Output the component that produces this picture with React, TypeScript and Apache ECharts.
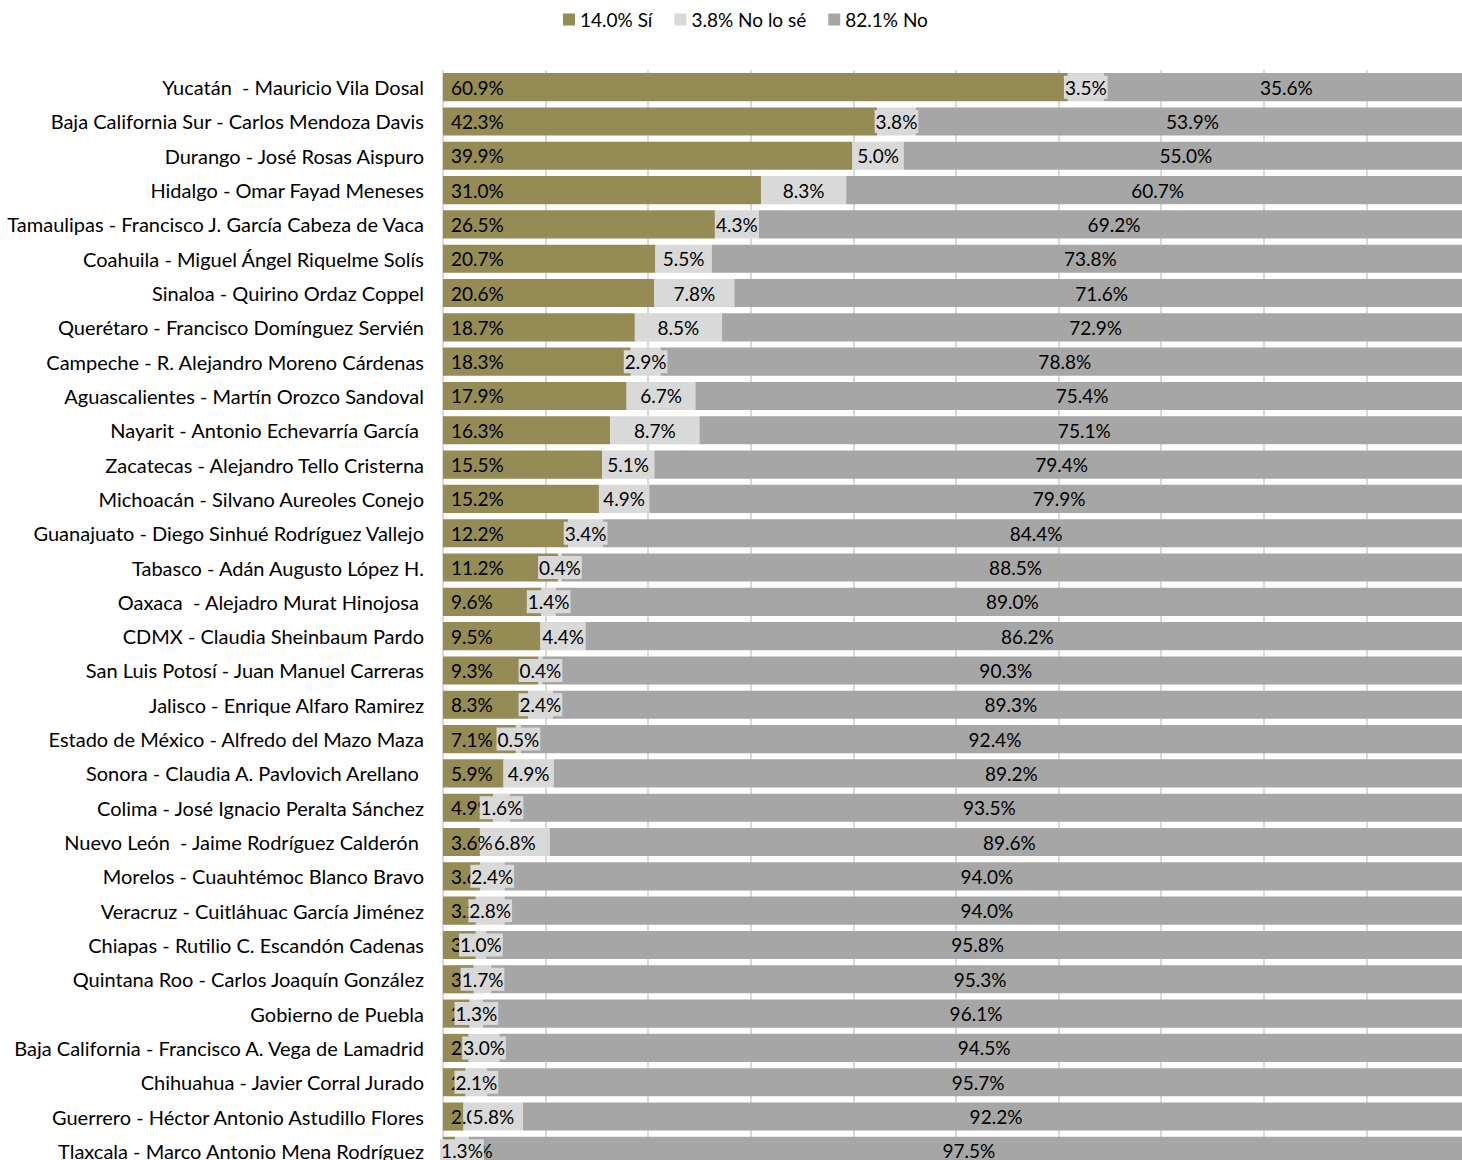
import React, { useEffect, useRef } from "react";
import * as echarts from "echarts";

const categories: string[] = [
  "Yucatán  - Mauricio Vila Dosal",
  "Baja California Sur - Carlos Mendoza Davis",
  "Durango - José Rosas Aispuro",
  "Hidalgo - Omar Fayad Meneses",
  "Tamaulipas - Francisco J. García Cabeza de Vaca",
  "Coahuila - Miguel Ángel Riquelme Solís",
  "Sinaloa - Quirino Ordaz Coppel",
  "Querétaro - Francisco Domínguez Servién",
  "Campeche - R. Alejandro Moreno Cárdenas",
  "Aguascalientes - Martín Orozco Sandoval",
  "Nayarit - Antonio Echevarría García ",
  "Zacatecas - Alejandro Tello Cristerna",
  "Michoacán - Silvano Aureoles Conejo",
  "Guanajuato - Diego Sinhué Rodríguez Vallejo",
  "Tabasco - Adán Augusto López H.",
  "Oaxaca  - Alejadro Murat Hinojosa ",
  "CDMX - Claudia Sheinbaum Pardo",
  "San Luis Potosí - Juan Manuel Carreras",
  "Jalisco - Enrique Alfaro Ramirez",
  "Estado de México - Alfredo del Mazo Maza",
  "Sonora - Claudia A. Pavlovich Arellano ",
  "Colima - José Ignacio Peralta Sánchez",
  "Nuevo León  - Jaime Rodríguez Calderón ",
  "Morelos - Cuauhtémoc Blanco Bravo",
  "Veracruz - Cuitláhuac García Jiménez",
  "Chiapas - Rutilio C. Escandón Cadenas",
  "Quintana Roo - Carlos Joaquín González",
  "Gobierno de Puebla",
  "Baja California - Francisco A. Vega de Lamadrid",
  "Chihuahua - Javier Corral Jurado",
  "Guerrero - Héctor Antonio Astudillo Flores",
  "Tlaxcala - Marco Antonio Mena Rodríguez",
];

const siValues: number[] = [
  60.9, 42.3, 39.9, 31.0, 26.5, 20.7, 20.6, 18.7, 18.3, 17.9, 16.3, 15.5, 15.2,
  12.2, 11.2, 9.6, 9.5, 9.3, 8.3, 7.1, 5.9, 4.9, 3.6, 3.6, 3.2, 3.2, 3.0, 2.6,
  2.5, 2.2, 2.0, 1.2,
];

const noSeValues: number[] = [
  3.5, 3.8, 5.0, 8.3, 4.3, 5.5, 7.8, 8.5, 2.9, 6.7, 8.7, 5.1, 4.9, 3.4, 0.4,
  1.4, 4.4, 0.4, 2.4, 0.5, 4.9, 1.6, 6.8, 2.4, 2.8, 1.0, 1.7, 1.3, 3.0, 2.1,
  5.8, 1.3,
];

const noValues: number[] = [
  35.6, 53.9, 55.0, 60.7, 69.2, 73.8, 71.6, 72.9, 78.8, 75.4, 75.1, 79.4, 79.9,
  84.4, 88.5, 89.0, 86.2, 90.3, 89.3, 92.4, 89.2, 93.5, 89.6, 94.0, 94.0, 95.8,
  95.3, 96.1, 94.5, 95.7, 92.2, 97.5,
];

const seriesNames: string[] = ["14.0% Sí", "3.8% No lo sé", "82.1% No"];
const seriesColors: string[] = ["#958B54", "#D9D9D9", "#A6A6A6"];

const FONT = "Lato";

export default function App() {
  const ref = useRef<HTMLDivElement>(null);

  useEffect(() => {
    if (!ref.current) return;
    const chart = echarts.init(ref.current, null, { renderer: "svg" });
    const fmt = (p: any) => Number(p.value).toFixed(1) + "%";
    const labelBase = {
      show: true,
      formatter: fmt,
      color: "#000",
      fontFamily: FONT,
      fontSize: 19,
    };
    chart.setOption({
      animation: false,
      textStyle: { fontFamily: FONT },
      legend: {
        top: 5,
        left: 558,
        icon: "rect",
        itemWidth: 12,
        itemHeight: 12,
        itemGap: 22,
        textStyle: { fontFamily: FONT, fontSize: 19, color: "#000" },
        data: seriesNames,
      },
      grid: {
        left: 443,
        top: 70,
        width: 1026,
        height: 1098,
        containLabel: false,
        outerBoundsMode: "none",
      },
      xAxis: {
        type: "value",
        min: 0,
        max: 100,
        interval: 10,
        axisLabel: { show: false },
        axisLine: { show: false },
        axisTick: { show: false },
        splitLine: { show: true, lineStyle: { color: "#D9D9D9", width: 2 } },
      },
      yAxis: {
        type: "category",
        inverse: true,
        data: categories,
        axisLine: { show: false },
        axisTick: { show: false },
        axisLabel: {
          margin: 19,
          color: "#000",
          fontFamily: FONT,
          fontSize: 20,
        },
      },
      series: [
        {
          name: seriesNames[0],
          type: "bar",
          stack: "total",
          barCategoryGap: "18%",
          data: siValues,
          itemStyle: { color: seriesColors[0] },
          label: { ...labelBase, position: "insideLeft", distance: 8 },
        },
        {
          name: seriesNames[1],
          type: "bar",
          stack: "total",
          barCategoryGap: "18%",
          data: noSeValues,
          itemStyle: { color: seriesColors[1] },
          label: {
            ...labelBase,
            position: "inside",
            backgroundColor: seriesColors[1],
            padding: [2, 1],
          },
        },
        {
          name: seriesNames[2],
          type: "bar",
          stack: "total",
          barCategoryGap: "18%",
          data: noValues,
          itemStyle: { color: seriesColors[2] },
          label: { ...labelBase, position: "inside" },
        },
      ],
    });
    return () => chart.dispose();
  }, []);

  return (
    <div
      ref={ref}
      style={{
        position: "fixed",
        left: 0,
        top: 0,
        width: 1462,
        height: 1160,
        background: "#fff",
      }}
    />
  );
}
